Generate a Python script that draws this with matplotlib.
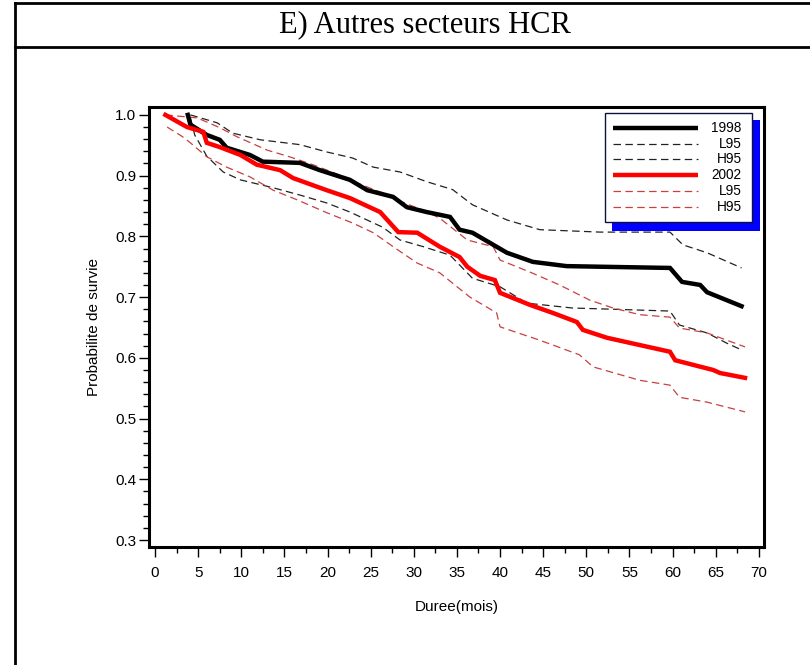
import matplotlib
matplotlib.use("Agg")
import matplotlib.pyplot as plt
from matplotlib.lines import Line2D
from matplotlib.patches import Rectangle
from matplotlib.ticker import MultipleLocator

# survie 1998 et intervalle de confiance (mois, probabilite)
t_1998 = [3.8, 4.1, 6.0, 7.5, 8.3, 11.0, 12.5, 16.8, 19.1, 22.6, 24.6, 27.6, 29.2,
          31.5, 34.2, 35.3, 36.8, 40.8, 43.8, 47.7, 51.6, 59.7, 61.1, 63.2, 64.0, 68.0]
s_1998 = [1.000, 0.984, 0.967, 0.959, 0.946, 0.934, 0.923, 0.921, 0.909, 0.893, 0.876,
          0.865, 0.848, 0.840, 0.832, 0.811, 0.806, 0.773, 0.758, 0.751, 0.750, 0.748,
          0.725, 0.720, 0.708, 0.685]

t_l95_1998 = [4.1, 4.6, 5.6, 6.0, 7.9, 9.9, 13.7, 16.8, 19.9, 22.6, 26.4, 28.4, 31.1,
              34.2, 36.8, 40.0, 43.1, 48.4, 53.1, 59.7, 60.8, 64.0, 66.3, 68.0]
l95_1998 = [0.995, 0.967, 0.942, 0.932, 0.906, 0.893, 0.880, 0.868, 0.855, 0.840, 0.815,
            0.794, 0.783, 0.769, 0.731, 0.717, 0.690, 0.682, 0.680, 0.677, 0.654, 0.641,
            0.624, 0.613]

t_h95_1998 = [4.1, 7.2, 9.0, 12.2, 16.8, 19.9, 22.9, 25.3, 28.4, 31.5, 34.5, 36.8,
              40.8, 44.6, 51.6, 59.7, 61.2, 64.0, 68.0]
h95_1998 = [1.000, 0.987, 0.970, 0.959, 0.951, 0.939, 0.929, 0.914, 0.906, 0.890, 0.877,
            0.852, 0.827, 0.811, 0.807, 0.807, 0.786, 0.773, 0.748]

# survie 2002 et intervalle de confiance
t_2002 = [1.2, 3.7, 5.6, 6.0, 7.5, 9.9, 11.8, 14.5, 16.0, 19.9, 22.6, 26.1, 28.2, 30.4,
          33.0, 35.3, 36.2, 37.7, 39.4, 40.0, 43.5, 46.1, 48.9, 49.6, 52.4, 56.2, 59.7,
          60.3, 64.7, 65.5, 68.4]
s_2002 = [1.000, 0.980, 0.972, 0.954, 0.947, 0.934, 0.918, 0.909, 0.896, 0.876, 0.863,
          0.840, 0.807, 0.806, 0.783, 0.766, 0.750, 0.735, 0.728, 0.707, 0.687, 0.674,
          0.659, 0.646, 0.633, 0.621, 0.610, 0.596, 0.580, 0.575, 0.567]

t_l95_2002 = [1.4, 3.2, 4.1, 6.0, 8.3, 11.0, 13.7, 16.5, 19.9, 22.9, 25.3, 27.6, 30.4,
              33.0, 36.5, 39.6, 40.0, 44.6, 49.2, 50.8, 56.2, 59.7, 60.8, 64.0, 68.4]
l95_2002 = [0.980, 0.964, 0.954, 0.931, 0.914, 0.898, 0.876, 0.860, 0.839, 0.822, 0.806,
            0.783, 0.756, 0.740, 0.700, 0.674, 0.651, 0.629, 0.605, 0.585, 0.563, 0.555,
            0.535, 0.527, 0.511]

t_h95_2002 = [1.2, 4.9, 7.5, 9.5, 13.0, 15.6, 18.3, 21.4, 23.4, 26.1, 28.0, 31.1, 33.0,
              36.2, 39.2, 40.0, 43.5, 46.9, 50.4, 53.1, 56.2, 59.7, 60.8, 64.0, 68.4]
h95_2002 = [1.000, 0.995, 0.979, 0.964, 0.942, 0.931, 0.918, 0.901, 0.888, 0.873, 0.860,
            0.843, 0.830, 0.794, 0.783, 0.761, 0.741, 0.720, 0.695, 0.682, 0.671, 0.667,
            0.649, 0.641, 0.618]

x_ticks = list(range(0, 71, 5))
y_ticks = [0.3, 0.4, 0.5, 0.6, 0.7, 0.8, 0.9, 1.0]
labels = ["1998", "L95", "H95", "2002", "L95", "H95"]

W, H = 810, 665
fig = plt.figure(figsize=(W / 100, H / 100), dpi=100)
fig.patch.set_facecolor("white")

# cadre du tableau + titre
def px_line(x0, y0, x1, y1, lw=2.0):
    fig.add_artist(Line2D([x0 / W, x1 / W], [1 - y0 / H, 1 - y1 / H],
                          transform=fig.transFigure, color="black", lw=lw))

px_line(15, 3, W, 3)
px_line(15, 47, W, 47)
px_line(15, 3, 15, H)
fig.text(425 / W, 1 - 25 / H, "E) Autres secteurs HCR", ha="center", va="center",
         fontsize=22, family="Liberation Serif")

ax = fig.add_axes([149 / W, 1 - 547 / H, 615 / W, 440 / H])
sans = "Liberation Sans"

dash = (6, 3.5)
ax.plot(t_l95_1998, l95_1998, color="#222222", lw=0.9, dashes=dash, zorder=2)
ax.plot(t_h95_1998, h95_1998, color="#222222", lw=0.9, dashes=dash, zorder=2)
ax.plot(t_l95_2002, l95_2002, color="#c84040", lw=0.9, dashes=dash, zorder=2)
ax.plot(t_h95_2002, h95_2002, color="#c84040", lw=0.9, dashes=dash, zorder=2)
ax.plot(t_1998, s_1998, color="black", lw=3.2, zorder=3, solid_joinstyle="miter")
ax.plot(t_2002, s_2002, color="#ff0000", lw=3.2, zorder=3, solid_joinstyle="miter")

ax.set_xlim(-0.7, 70.6)
ax.set_ylim(0.2885, 1.013)
ax.set_xticks(x_ticks)
ax.set_yticks(y_ticks)
ax.set_yticklabels([f"{v:.1f}" for v in y_ticks])
ax.xaxis.set_minor_locator(MultipleLocator(2.5))
ax.yaxis.set_minor_locator(MultipleLocator(0.02))
ax.tick_params(axis="both", which="major", direction="out", length=7, width=1,
               labelsize=11, colors="black")
ax.tick_params(axis="both", which="minor", direction="out", length=4, width=1)
ax.tick_params(axis="x", pad=7)
ax.tick_params(axis="y", pad=2)
for lab in ax.get_xticklabels() + ax.get_yticklabels():
    lab.set_family(sans)
for sp in ax.spines.values():
    sp.set_linewidth(2.2)

ax.set_xlabel("Duree(mois)", fontsize=11, family=sans, labelpad=14)
ax.set_ylabel("Probabilite de survie", fontsize=11, family=sans, labelpad=10)

# legende encadree avec ombre bleue
ax.add_patch(Rectangle((0.753, 0.718), 0.240, 0.252, transform=ax.transAxes,
                       facecolor="#0000ff", edgecolor="none", zorder=6, clip_on=False))
ax.add_patch(Rectangle((0.741, 0.739), 0.239, 0.247, transform=ax.transAxes,
                       facecolor="white", edgecolor="#101040", lw=1.0, zorder=7,
                       clip_on=False))
styles = [("black", 3.2, None), ("#222222", 0.9, dash), ("#222222", 0.9, dash),
          ("#ff0000", 3.2, None), ("#c84040", 0.9, dash), ("#c84040", 0.9, dash)]
rows = [0.952, 0.916, 0.882, 0.845, 0.809, 0.773]
for lab, (c, lw, d), ry in zip(labels, styles, rows):
    ln = Line2D([0.754, 0.893], [ry, ry], transform=ax.transAxes, color=c, lw=lw,
                zorder=8, solid_capstyle="butt")
    if d:
        ln.set_dashes(d)
    ax.add_line(ln)
    ax.text(0.964, ry, lab, transform=ax.transAxes, ha="right", va="center",
            fontsize=9.8, family=sans, zorder=8)

fig.savefig("out.png", dpi=100)
